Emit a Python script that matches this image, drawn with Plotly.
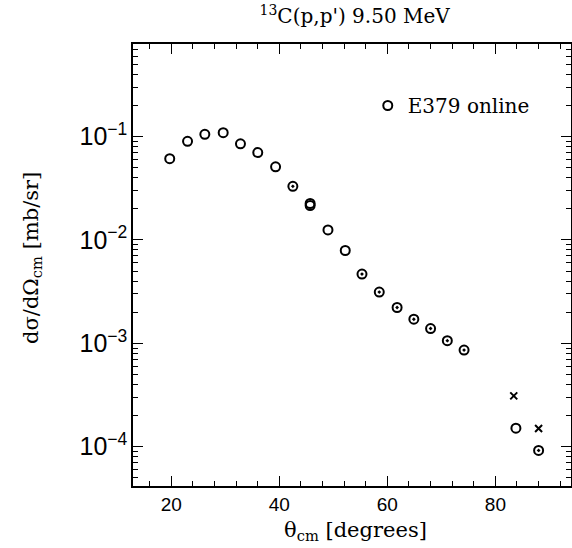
import plotly.graph_objects as go

# Data
theta = [19.7, 23.0, 26.2, 29.6, 32.8, 36.0, 39.3, 42.5, 45.7, 45.7, 49.0, 52.2,
         55.3, 58.5, 61.8, 64.9, 68.0, 71.1, 74.2, 83.8, 88.0]
xsec = [0.061, 0.090, 0.105, 0.109, 0.085, 0.070, 0.051, 0.033, 0.0225, 0.0215,
        0.0125, 0.0079, 0.00467, 0.00313, 0.00222, 0.00171, 0.00139, 0.00106,
        0.00086, 1.51e-4, 9.2e-5]
dotted = [False, False, False, False, False, False, False, True, False, False,
          False, False, True, True, True, True, True, True, True, False, True]

theta_x = [83.4, 88.0]
xsec_x = [3.1e-4, 1.5e-4]

xtickvals = [20, 40, 60, 80]

serif = "DejaVu Serif"
sans = "Liberation Sans"

symbols = ["circle-open-dot" if d else "circle-open" for d in dotted]

fig = go.Figure()
fig.add_trace(go.Scatter(
    x=theta, y=xsec, mode="markers", name="E379 online",
    marker=dict(symbol=symbols, size=9, color="black", line=dict(width=2, color="black")),
))
fig.add_trace(go.Scatter(
    x=theta_x, y=xsec_x, mode="markers", showlegend=False,
    marker=dict(symbol="x-thin-open", size=7, color="black", line=dict(width=2, color="black")),
))

axis_common = dict(
    showline=True, linecolor="black", linewidth=1.5, mirror="allticks",
    ticks="inside", tickcolor="black", showgrid=False, zeroline=False,
    automargin=False,
)

fig.update_xaxes(
    range=[12.9, 94], tickmode="array", tickvals=xtickvals, ticklen=10, tickwidth=1.3,
    minor=dict(dtick=4, tick0=0, ticks="inside", ticklen=5, tickcolor="black", tickwidth=1),
    tickfont=dict(family=sans, size=19, color="black"),
    **axis_common,
)
fig.update_yaxes(
    type="log", range=[-4.38, -0.105], dtick=1, exponentformat="power",
    ticklen=10, tickwidth=1.3,
    minor=dict(dtick="D1", ticks="inside", ticklen=5, tickcolor="black", tickwidth=1, showgrid=False),
    tickfont=dict(family=sans, size=20, color="black"),
    **axis_common,
)

fig.update_layout(
    width=572, height=548,
    margin=dict(l=133, r=1, t=44, b=62),
    paper_bgcolor="white", plot_bgcolor="white",
    title=dict(text="<sup>13</sup>C(p,p') 9.50 MeV", x=0.62, xanchor="center", y=0.97, yanchor="middle",
               font=dict(family=serif, size=20, color="black")),
    legend=dict(x=0.536, y=0.905, xanchor="left", yanchor="top", bgcolor="rgba(0,0,0,0)",
                font=dict(family=serif, size=20, color="black"), itemwidth=30),
    showlegend=True,
    annotations=[
        dict(text="d\u03c3/d\u03a9<sub>cm</sub> [mb/sr]", xref="paper", yref="paper",
             x=-0.2306, y=0.516, xanchor="center", yanchor="middle", textangle=-90,
             showarrow=False, font=dict(family=serif, size=21, color="black")),
        dict(text="\u03b8<sub>cm</sub> [degrees]", xref="paper", yref="paper",
             x=0.507, y=-0.101, xanchor="center", yanchor="middle",
             showarrow=False, font=dict(family=serif, size=21, color="black")),
    ],
)

fig.write_html("out.html", config={"displayModeBar": False},
               post_script="document.body.style.margin='0';document.body.style.overflow='hidden';")
